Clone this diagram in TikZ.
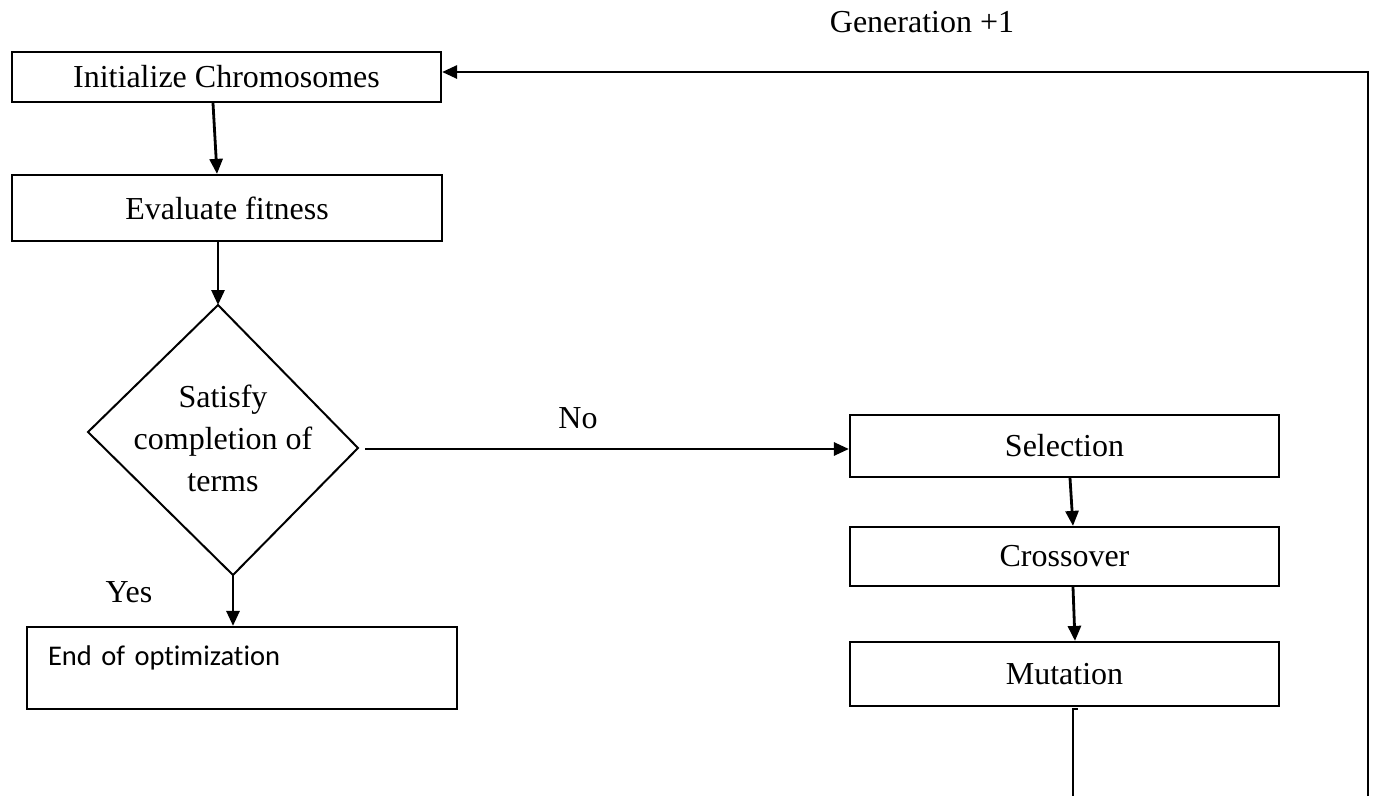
\documentclass[tikz,border=0pt]{standalone}
\usepackage{fontspec}
\setmainfont{Liberation Serif}
\newfontfamily\carlitofont[Ligatures={NoCommon,NoRequired,NoContextual}]{Carlito}
\usetikzlibrary{arrows.meta}
\begin{document}
\begin{tikzpicture}[x=1pt,y=-1pt,
  box/.style={draw, line width=2.2pt, inner sep=0pt, font=\fontsize{32}{36}\selectfont},
  arr/.style={line width=2.8pt, -{Triangle[length=15pt,width=13pt]}},
  lbl/.style={inner sep=0pt, font=\fontsize{32}{36}\selectfont}]
\useasboundingbox (0,0) rectangle (1374,796);
\fill[white] (0,0) rectangle (1374,796);

\node[box, minimum width=429pt, minimum height=50pt] (init) at (226.5,77) {Initialize Chromosomes};
\node[box, minimum width=430pt, minimum height=66pt] (eval) at (227,208) {Evaluate fitness};
\node[box, minimum width=429pt, minimum height=62pt] (sel) at (1064.5,446) {Selection};
\node[box, minimum width=429pt, minimum height=59pt] (cross) at (1064.5,556.5) {Crossover};
\node[box, minimum width=429pt, minimum height=64pt] (mut) at (1064.5,674) {Mutation};
\node[box, minimum width=430pt, minimum height=82pt, text width=388pt, align=left, text depth=25pt,
      font=\carlitofont\fontsize{28.5}{34}\selectfont] (end) at (242,668) {End of optimization};

% decision diamond
\coordinate (dtop) at (218,305);
\coordinate (dright) at (358,448);
\coordinate (dbot) at (233,575);
\coordinate (dleft) at (88,432);
\draw[line width=2pt] (dtop) -- (dright) -- (dbot) -- (dleft) -- cycle;
\node[lbl, align=center, font=\fontsize{32}{42}\selectfont] (dtext) at (223,438) {Satisfy\\completion of\\terms};

% connectors
\draw[arr] ([xshift=-13.5pt]init.south) -- ([xshift=-10pt]eval.north);
\draw[arr] ([xshift=-9pt]eval.south) -- (dtop);
\coordinate (nostart) at (365,449);
\draw[arr] (nostart) -- (sel.west |- nostart);
\draw[arr] (dbot) -- (end.north -| dbot);
\draw[arr] ([xshift=5.5pt]sel.south) -- ([xshift=8.5pt]cross.north);
\draw[arr] ([xshift=8.5pt]cross.south) -- ([xshift=10.5pt]mut.north);

% feedback loop
\coordinate (m1) at (1078,709);
\coordinate (m2) at (1073,709);
\coordinate (m3) at (1073,796);
\draw[line width=2.2pt] (m1) -- (m2) -- (m3);
\coordinate (r1) at (1368,796);
\coordinate (r2) at (1368,72);
\draw[arr] (r1) -- (r2) -- (init.east |- r2);

% labels
\node[lbl] (gen) at (922,22) {Generation +1};
\node[lbl] (no) at (578,418) {No};
\node[lbl] (yes) at (129,592) {Yes};
\end{tikzpicture}
\end{document}
